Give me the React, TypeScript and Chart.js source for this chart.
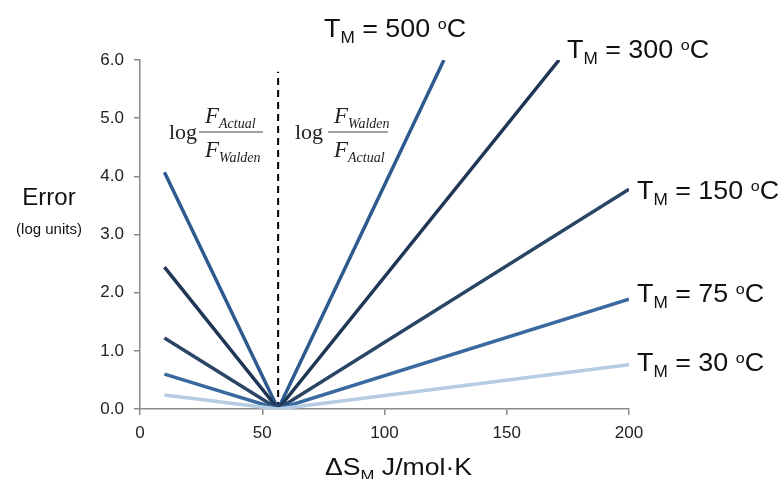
import React, { useEffect, useRef } from "react";
import { Chart, registerables } from "chart.js";

Chart.register(...registerables);

// ---- data ----
const temps = ["500", "300", "150", "75", "30"];
const xStart = 10; // ΔS at left end of lines
const xWalden = 56.5; // Walden's rule vertex
const errAtStart = [4.07, 2.44, 1.22, 0.6, 0.24];
const endX = [124.3, 171.4, 200, 200, 200];
const endY = [6.0, 6.0, 3.78, 1.89, 0.76];
const dashTop = 5.8;
const xTicks = [0, 50, 100, 150, 200];
const yTicks = [0, 1, 2, 3, 4, 5, 6];

const lineColors = ["#2E5B8F", "#1F3655", "#2A4565", "#3A69A0", "#B7CBE3"];
const labelPos: [number, number][] = [
  [324, 37],
  [567, 58],
  [637, 199],
  [637, 302],
  [637, 371],
];

const SANS = "Arial, 'Liberation Sans', sans-serif";
const SERIF = "'Times New Roman', 'Liberation Serif', serif";

type Part = { t: string; size: number; dy?: number; italic?: boolean; serif?: boolean };

function drawRich(ctx: CanvasRenderingContext2D, x: number, y: number, parts: Part[], sx = 1) {
  ctx.save();
  ctx.translate(x, y);
  ctx.scale(sx, 1);
  let cx = 0;
  for (const p of parts) {
    ctx.font = `${p.italic ? "italic " : ""}${p.size}px ${p.serif ? SERIF : SANS}`;
    ctx.fillText(p.t, cx, p.dy || 0);
    cx += ctx.measureText(p.t).width;
  }
  ctx.restore();
}

const annotPlugin = {
  id: "annot",
  afterDraw(chart: any) {
    const ctx: CanvasRenderingContext2D = chart.ctx;
    ctx.save();
    ctx.textAlign = "left";
    ctx.textBaseline = "alphabetic";
    ctx.fillStyle = "#111";
    // temperature labels
    temps.forEach((t, i) => {
      const [lx, ly] = labelPos[i];
      drawRich(
        ctx,
        lx,
        ly,
        [
          { t: "T", size: 25 },
          { t: "M", size: 16, dy: 6 },
          { t: ` = ${t} `, size: 25 },
          { t: "o", size: 15, dy: -8 },
          { t: "C", size: 25 },
        ],
        1.075
      );
    });
    // axis titles
    ctx.textAlign = "center";
    ctx.font = `24px ${SANS}`;
    ctx.fillText("Error", 49, 205);
    ctx.font = `15px ${SANS}`;
    ctx.fillText("(log units)", 49, 234);
    ctx.textAlign = "left";
    drawRich(
      ctx,
      325,
      475,
      [
        { t: "ΔS", size: 24 },
        { t: "M", size: 15, dy: 5 },
        { t: " J/mol·K", size: 24 },
      ],
      1.11
    );
    // formulas
    ctx.fillStyle = "#222";
    const formula = (lx: number, barL: number, barR: number, num: string, den: string) => {
      ctx.font = `22px ${SERIF}`;
      ctx.fillText("log", lx, 139);
      ctx.strokeStyle = "#444";
      ctx.lineWidth = 1.2;
      ctx.beginPath();
      ctx.moveTo(barL, 132);
      ctx.lineTo(barR, 132);
      ctx.stroke();
      drawRich(ctx, barL + 6, 123, [
        { t: "F", size: 23, italic: true, serif: true },
        { t: num, size: 14, italic: true, serif: true, dy: 5 },
      ]);
      drawRich(ctx, barL + 6, 157, [
        { t: "F", size: 23, italic: true, serif: true },
        { t: den, size: 14, italic: true, serif: true, dy: 5 },
      ]);
    };
    formula(169, 199, 263, "Actual", "Walden");
    formula(295, 328, 388, "Walden", "Actual");
    ctx.restore();
  },
};

export default function App() {
  const ref = useRef<HTMLCanvasElement | null>(null);
  useEffect(() => {
    if (!ref.current) return;
    const datasets: any[] = temps
      .map((t, i) => ({
        label: `TM = ${t} °C`,
        data: [
          { x: xStart, y: errAtStart[i] },
          { x: xWalden, y: 0 },
          { x: endX[i], y: endY[i] },
        ],
        borderColor: lineColors[i],
        borderWidth: 3.5,
        pointRadius: 0,
        tension: 0,
        fill: false,
        borderCapStyle: "butt",
      }))
      .reverse();
    datasets.push({
      label: "Walden",
      data: [
        { x: xWalden, y: 0 },
        { x: xWalden, y: dashTop },
      ],
      borderColor: "#000",
      borderWidth: 2,
      borderDash: [7, 5],
      pointRadius: 0,
      fill: false,
    });
    const chart = new Chart(ref.current, {
      type: "line",
      data: { datasets },
      plugins: [annotPlugin],
      options: {
        animation: false,
        responsive: true,
        maintainAspectRatio: false,
        layout: { padding: { left: 0, right: 151, top: 60, bottom: 0 } },
        plugins: { legend: { display: false }, tooltip: { enabled: false } },
        scales: {
          x: {
            type: "linear",
            min: 0,
            max: 200,
            afterFit: (s: any) => {
              s.height = 70;
            },
            afterBuildTicks: (s: any) => {
              s.ticks = xTicks.map((v) => ({ value: v }));
            },
            border: { display: true, color: "#8a8a8a", width: 1.5 },
            grid: { display: true, drawOnChartArea: false, drawTicks: true, tickLength: 6, color: "#8a8a8a", lineWidth: 1.5 },
            ticks: { color: "#222", font: { size: 17, family: SANS }, padding: 8, maxRotation: 0 },
          },
          y: {
            type: "linear",
            min: 0,
            max: 6,
            afterFit: (s: any) => {
              s.width = 140;
            },
            afterBuildTicks: (s: any) => {
              s.ticks = yTicks.map((v) => ({ value: v }));
            },
            border: { display: true, color: "#8a8a8a", width: 1.5 },
            grid: { display: true, drawOnChartArea: false, drawTicks: true, tickLength: 6, color: "#8a8a8a", lineWidth: 1.5 },
            ticks: {
              color: "#222",
              font: { size: 17, family: SANS },
              padding: 10,
              callback: (v: any) => Number(v).toFixed(1),
            },
          },
        },
      },
    });
    return () => chart.destroy();
  }, []);
  return (
    <div style={{ position: "absolute", left: 0, top: 0, width: 780, height: 479, background: "#fff" }}>
      <canvas ref={ref} />
    </div>
  );
}
